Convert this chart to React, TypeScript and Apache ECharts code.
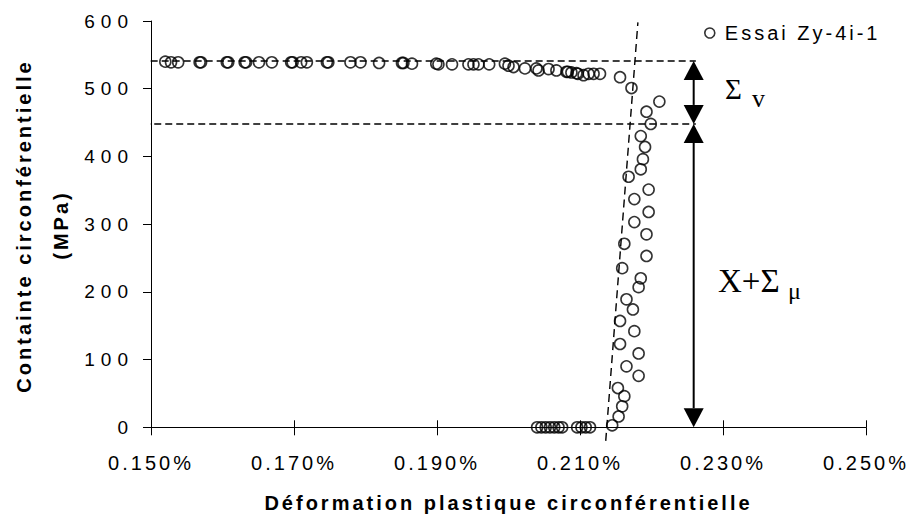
import React, { useEffect, useRef } from "react";
import * as echarts from "echarts";

// ---- data (strain in %, stress in MPa) ----
const seriesName = "Essai Zy-4i-1";
const xMin = 0.15;
const xMax = 0.25;
const xInterval = 0.02;
const yMin = 0;
const yMax = 600;
const yInterval = 100;

const plateauStrain = [0.1520, 0.1528, 0.1538, 0.1568, 0.1570, 0.1606, 0.1608, 0.1631, 0.1633, 0.1651, 0.1669, 0.1696, 0.1698, 0.1710, 0.1718, 0.1746, 0.1748, 0.1779, 0.1793, 0.1819, 0.1851, 0.1853, 0.1865, 0.1899, 0.1902, 0.1921, 0.1944, 0.1951, 0.1958, 0.1973, 0.1995, 0.2000, 0.2007, 0.2023, 0.2039, 0.2042, 0.2056, 0.2067, 0.2081, 0.2083, 0.2088, 0.2095, 0.2097, 0.2105, 0.2112, 0.2119, 0.2128];
const plateauStress = [540, 539, 539, 539, 539, 539, 539, 539, 539, 539, 539, 539, 539, 539, 539, 539, 539, 539, 539, 538, 538, 538, 537, 537, 536, 536, 536, 536, 536, 536, 537, 534, 532, 530, 530, 527, 529, 527, 525, 525, 524, 523, 522, 520, 522, 522, 522];

const zeroStrain = [0.2040, 0.2046, 0.2052, 0.2058, 0.2064, 0.2070, 0.2075, 0.2096, 0.2102, 0.2108, 0.2114];
const zeroStress = [0, 0, 0, 0, 0, 0, 0, 0, 0, 0, 0];

const riseStrain = [0.2156, 0.2172, 0.2211, 0.2193, 0.2199, 0.2185, 0.2191, 0.2188, 0.2185, 0.2168, 0.2196, 0.2176, 0.2196, 0.2176, 0.2193, 0.2162, 0.2193, 0.2159, 0.2185, 0.2182, 0.2165, 0.2174, 0.2156, 0.2176, 0.2156, 0.2182, 0.2165, 0.2182, 0.2153, 0.2162, 0.2159, 0.2154, 0.2145];
const riseStress = [517, 501, 481, 466, 448, 430, 414, 396, 381, 370, 351, 337, 318, 303, 285, 271, 253, 235, 220, 207, 189, 174, 157, 142, 123, 109, 90, 76, 58, 46, 31, 16, 3];

// guide lines
const upperLevel = 541;
const lowerLevel = 448;
const guideStartStrain = [0.1438, 0.1443];
const guideEndStrain = 0.2262;
const slopeStrain = [0.2136, 0.2181];
const slopeStress = [-20, 598];
const arrowStrain = 0.2259;

// texts
const xTitle = "Déformation plastique circonférentielle";
const yTitleLines = ["Containte circonférentielle", "(MPa)"];

const sans = '"Liberation Sans", Arial, sans-serif';
const sansWide = '"Liberation Sans", Arimo, sans-serif';
const serif = '"Liberation Serif", "Times New Roman", serif';

export default function App() {
  const ref = useRef<HTMLDivElement>(null);

  useEffect(() => {
    const chart = echarts.init(ref.current!, null, { renderer: "svg" });
    const zip = (a: number[], b: number[]) => a.map((v, i) => [v, b[i]]);
    const scatterData = [
      ...zip(plateauStrain, plateauStress),
      ...zip(zeroStrain, zeroStress),
      ...zip(riseStrain, riseStress),
    ];
    const dashed = (data: number[][], dash: number[]) => ({
      type: "line",
      data,
      symbol: "none",
      clip: false,
      silent: true,
      lineStyle: { color: "#000", width: 1.4, type: dash },
      z: 1,
    });

    chart.setOption({
      animation: false,
      backgroundColor: "#fff",
      grid: { left: 151, right: 42, top: 21, bottom: 92.7, containLabel: false },
      legend: {
        data: [seriesName],
        left: 704,
        top: 23,
        padding: 0,
        itemWidth: 20,
        itemHeight: 10,
        textStyle: { fontFamily: sans, fontSize: 20, color: "#000", padding: [0, 0, 8, 0] },
        itemStyle: { color: "transparent", borderColor: "#000", borderWidth: 1.6 },
      },
      xAxis: [
        {
          type: "value",
          min: xMin,
          max: xMax,
          interval: xInterval,
          position: "bottom",
          axisLine: { show: true, onZero: false, lineStyle: { color: "#000", width: 1 } },
          axisTick: { show: true, length: 8, lineStyle: { color: "#000" } },
          axisLabel: {
            formatter: (v: number) => v.toFixed(3) + "%",
            fontFamily: sans,
            fontSize: 20,
            color: "#000",
            margin: 26,
          },
          splitLine: { show: false },
          name: xTitle,
          nameLocation: "middle",
          nameGap: 66,
          nameTextStyle: { fontFamily: sans, fontSize: 20, fontWeight: "bold", color: "#000" },
        },
        {
          type: "value",
          min: xMin,
          max: xMax,
          interval: xInterval,
          position: "bottom",
          axisLine: { show: false, onZero: false },
          axisTick: { show: true, inside: true, length: 7, lineStyle: { color: "#000" } },
          axisLabel: { show: false },
          splitLine: { show: false },
        },
      ],
      yAxis: {
        type: "value",
        min: yMin,
        max: yMax,
        interval: yInterval,
        axisLine: { show: true, lineStyle: { color: "#000", width: 1 } },
        axisTick: { show: true, length: 8, lineStyle: { color: "#000" } },
        axisLabel: { fontFamily: sansWide, fontSize: 19, color: "#000", margin: 17 },
        splitLine: { show: false },
      },
      series: [
        {
          name: seriesName,
          type: "scatter",
          data: scatterData,
          symbol: "circle",
          symbolSize: 11,
          itemStyle: { color: "transparent", borderColor: "#000", borderWidth: 1.6 },
          z: 3,
        },
        dashed([[guideStartStrain[0], upperLevel], [guideEndStrain, upperLevel]], [7, 4]),
        dashed([[guideStartStrain[1], lowerLevel], [guideEndStrain, lowerLevel]], [7, 4]),
        dashed(zip(slopeStrain, slopeStress), [8, 5]),
      ],
    });

    const px = (x: number, y: number) =>
      chart.convertToPixel({ xAxisIndex: 0, yAxisIndex: 0 }, [x, y]) as number[];

    const arrow = (topVal: number, botVal: number) => {
      const [x, yTop] = px(arrowStrain, topVal);
      const [, yBot] = px(arrowStrain, botVal);
      const h = 19;
      const w = 10;
      return [
        { type: "polygon", shape: { points: [[x, yTop], [x - w, yTop + h], [x + w, yTop + h]] }, style: { fill: "#000" } },
        { type: "polygon", shape: { points: [[x, yBot], [x - w, yBot - h], [x + w, yBot - h]] }, style: { fill: "#000" } },
        { type: "line", shape: { x1: x, y1: yTop + h, x2: x, y2: yBot - h }, style: { stroke: "#000", lineWidth: 2 } },
      ];
    };

    const txt = (text: string, x: number, y: number, size: number, family: string) => ({
      type: "text",
      x,
      y,
      style: {
        text,
        fontSize: size,
        fontFamily: family,
        fill: "#000",
        align: "left",
        verticalAlign: "middle",
      },
    });

    chart.setOption({
      graphic: [
        ...arrow(upperLevel, lowerLevel),
        ...arrow(lowerLevel, yMin),
        txt("Σ", 725, 89, 29, serif),
        txt("v", 752, 98, 26, serif),
        txt("X+Σ", 718, 281, 33, serif),
        txt("μ", 788, 291, 24, serif),
        {
          type: "text",
          x: 24,
          y: 226,
          rotation: Math.PI / 2,
          style: { text: yTitleLines[0], fontSize: 20, fontWeight: "bold", fontFamily: sans, fill: "#000", align: "center", verticalAlign: "middle" },
        },
        {
          type: "text",
          x: 61,
          y: 225,
          rotation: Math.PI / 2,
          style: { text: yTitleLines[1], fontSize: 20, fontWeight: "bold", fontFamily: sans, fill: "#000", align: "center", verticalAlign: "middle" },
        },
      ],
    });

    return () => chart.dispose();
  }, []);

  return (
    <>
      <style>{`#chart text { letter-spacing: 3px; } #chart text[style*="Arimo"] { letter-spacing: 6px; } #chart text[style*="Serif"] { letter-spacing: 0; }`}</style>
      <div
        id="chart"
        ref={ref}
        style={{ position: "fixed", left: 0, top: 0, width: 908, height: 520, background: "#fff" }}
      />
    </>
  );
}
